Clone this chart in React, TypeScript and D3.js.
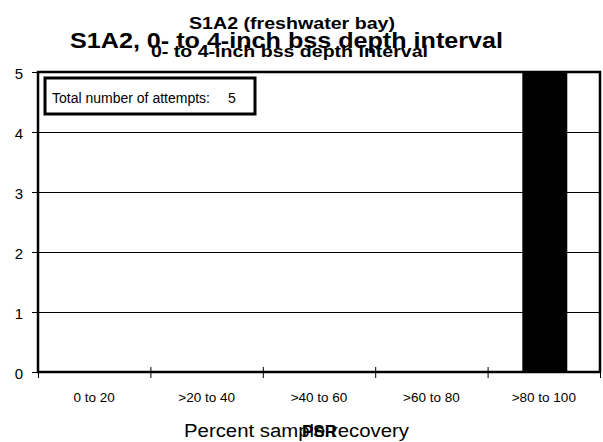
import React, { useEffect, useRef } from 'react';
import * as d3 from 'd3';

const categories = ['0 to 20', '>20 to 40', '>40 to 60', '>60 to 80', '>80 to 100'];
const attempts = [0, 0, 0, 0, 5];
const yTicks = [0, 1, 2, 3, 4, 5];
const totalAttempts = 5;

const W = 603;
const H = 442;

export default function App() {
  const ref = useRef<SVGSVGElement>(null);

  useEffect(() => {
    const svg = d3.select(ref.current);
    svg.selectAll('*').remove();

    const left = 38;
    const right = 600;
    const top = 72;
    const bottom = 372;
    const font = 'Arial, "Liberation Sans", sans-serif';

    const x = d3.scaleBand().domain(categories).range([left, right]);
    const y = d3.scaleLinear().domain([0, 5]).range([bottom, top]);

    svg.append('rect').attr('width', W).attr('height', H).attr('fill', '#fff');

    // grid
    svg.selectAll('line.grid')
      .data(yTicks.filter((t) => t > 0 && t < 5))
      .enter()
      .append('line')
      .attr('x1', left).attr('x2', right)
      .attr('y1', (d) => y(d) + 0.5).attr('y2', (d) => y(d) + 0.5)
      .attr('stroke', '#000').attr('stroke-width', 1);

    // bars
    const barW = x.bandwidth() * 0.4;
    svg.selectAll('rect.bar')
      .data(attempts)
      .enter()
      .append('rect')
      .attr('x', (d, i) => x(categories[i])! + (x.bandwidth() - barW) / 2 + 1)
      .attr('y', (d) => y(d))
      .attr('width', barW)
      .attr('height', (d) => bottom - y(d))
      .attr('fill', '#000');

    // frame
    svg.append('rect')
      .attr('x', left).attr('y', top)
      .attr('width', right - left).attr('height', bottom - top)
      .attr('fill', 'none').attr('stroke', '#000').attr('stroke-width', 2.5);

    // y ticks
    const yg = svg.append('g');
    yTicks.forEach((t) => {
      yg.append('line').attr('x1', left - 6).attr('x2', left)
        .attr('y1', y(t) + 0.5).attr('y2', y(t) + 0.5).attr('stroke', '#000');
      yg.append('text').attr('x', 23).attr('y', y(t) + 6.5)
        .attr('text-anchor', 'end').attr('font-family', font).attr('font-size', 15)
        .text(t);
    });

    // x ticks
    const edges = categories.map((c) => x(c)!).concat([right]);
    edges.forEach((e) => {
      svg.append('line').attr('x1', e + 0.5).attr('x2', e + 0.5)
        .attr('y1', bottom - 5).attr('y2', bottom + 6).attr('stroke', '#000');
    });
    categories.forEach((c) => {
      svg.append('text').attr('x', x(c)! + x.bandwidth() / 2).attr('y', 402)
        .attr('text-anchor', 'middle').attr('font-family', font).attr('font-size', 13.5)
        .text(c);
    });

    // legend box
    svg.append('rect').attr('x', 45).attr('y', 78).attr('width', 210).attr('height', 36)
      .attr('fill', '#fff').attr('stroke', '#000').attr('stroke-width', 3);
    svg.append('text').attr('x', 52).attr('y', 103)
      .attr('font-family', font).attr('font-size', 14)
      .text('Total number of attempts:');
    svg.append('text').attr('x', 228).attr('y', 103)
      .attr('font-family', font).attr('font-size', 14)
      .text(totalAttempts);

    // titles
    svg.append('text').attr('x', 189).attr('y', 29)
      .attr('font-family', font).attr('font-size', 16).attr('font-weight', 'bold')
      .attr('textLength', 206).attr('lengthAdjust', 'spacingAndGlyphs')
      .text('S1A2 (freshwater bay)');
    svg.append('text').attr('x', 70).attr('y', 48)
      .attr('font-family', font).attr('font-size', 22).attr('font-weight', 'bold')
      .attr('textLength', 433).attr('lengthAdjust', 'spacingAndGlyphs')
      .text('S1A2, 0- to 4-inch bss depth interval');
    svg.append('text').attr('x', 151).attr('y', 57)
      .attr('font-family', font).attr('font-size', 17).attr('font-weight', 'bold')
      .attr('textLength', 277).attr('lengthAdjust', 'spacingAndGlyphs')
      .text('0- to 4-inch bss depth interval');

    // axis title
    svg.append('text').attr('x', 184).attr('y', 437)
      .attr('font-family', font).attr('font-size', 18)
      .attr('textLength', 225).attr('lengthAdjust', 'spacingAndGlyphs')
      .text('Percent sample recovery');
    svg.append('text').attr('x', 302).attr('y', 437)
      .attr('font-family', font).attr('font-size', 17).attr('font-weight', 'bold')
      .attr('textLength', 35).attr('lengthAdjust', 'spacingAndGlyphs')
      .text('PSR');
  }, []);

  return <svg ref={ref} width={W} height={H} style={{ display: 'block', position: 'absolute', left: 0, top: 0 }} />;
}
